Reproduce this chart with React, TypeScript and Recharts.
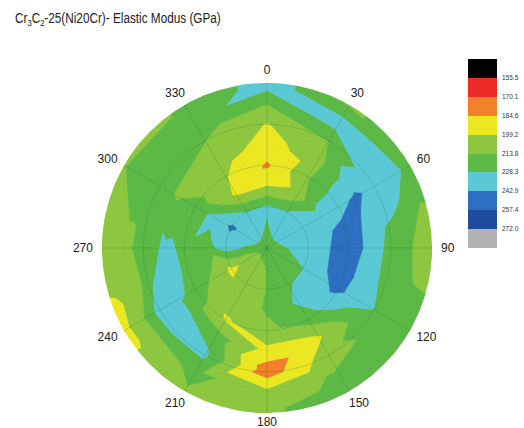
import React from 'react';
import {
  ScatterChart,
  Scatter,
  XAxis,
  YAxis,
  RadarChart,
  Radar,
  PolarGrid,
  PolarAngleAxis,
  PolarRadiusAxis,
} from 'recharts';

// measurement directions (deg, clockwise from top) and the values on each ring, inner to outer
const ANGLES = [0, 30, 60, 90, 120, 150, 180, 210, 240, 270, 300, 330];
const CENTER_VALUE = 221;
const RING_1 = [226, 234, 234, 228, 224, 224, 214, 208, 203, 226, 236, 234];
const RING_2 = [230, 229, 234, 236, 228, 226, 214, 206, 196, 234, 245, 228];
const RING_3 = [199, 204, 236, 242, 240, 231, 215, 207, 210, 222, 232, 197];
const RING_4 = [182.5, 212, 239, 252, 246, 220, 211, 197, 224, 226, 220, 200];
const RING_5 = [192, 208, 245, 238, 236, 197, 194, 222, 231, 231, 212, 207];
const RING_6 = [198, 214, 238, 223, 228, 207, 175, 231, 235, 218, 220, 214];
const RING_7 = [214, 236, 236, 214, 222, 216, 203, 218, 210, 210, 220, 222];
const RING_8 = [236, 212, 220, 206, 221, 220, 212, 212, 194, 207, 213, 214];

const LEVELS = [155.5, 170.1, 184.6, 199.2, 213.8, 228.3, 242.9, 257.4, 272.0];
const BAND_COLORS = [
  '#000000', '#ec2a26', '#f3812b', '#ebe722', '#8dc63f',
  '#5cb946', '#5bc8d6', '#2d6fc0', '#1f4c9f', '#b2b2b2',
];

const W = 524;
const H = 428;
const CX = 267;
const CY = 248;
const R = 165;

type P = { x: number; y: number; v: number };

const RINGS = [RING_1, RING_2, RING_3, RING_4, RING_5, RING_6, RING_7, RING_8];
const OUTER = RINGS.length;
// extra rim ring (outer values repeated) so the disk clip hides the chord gaps
const RADII = [...RINGS.map((_, k) => k + 1), OUTER * 1.1];

const sorted = RINGS.flat().sort((a, b) => a - b);
const MEDIAN = sorted[Math.floor(sorted.length / 2)];

const node = (k: number, i: number): P => {
  if (k < 0) return { x: 0, y: 0, v: CENTER_VALUE };
  const a = (ANGLES[i % 12] * Math.PI) / 180;
  const vals = RINGS[Math.min(k, OUTER - 1)];
  return { x: RADII[k] * Math.sin(a), y: RADII[k] * Math.cos(a), v: vals[i % 12] };
};

// split each cell along the diagonal that carries the stronger feature
const splitQuad = (a: P, b: P, c: P, d: P): P[][] =>
  Math.abs((a.v + c.v) / 2 - MEDIAN) >= Math.abs((b.v + d.v) / 2 - MEDIAN)
    ? [[a, b, c], [a, c, d]]
    : [[a, b, d], [b, c, d]];

const triangles: P[][] = [];
for (let i = 0; i < 12; i++) {
  triangles.push([node(-1, 0), node(0, i), node(0, i + 1)]);
  for (let k = 0; k < RADII.length - 1; k++) {
    triangles.push(...splitQuad(node(k, i), node(k, i + 1), node(k + 1, i + 1), node(k + 1, i)));
  }
}

// keep the part of a polygon above (or below) a level, linear along edges
const clip = (poly: P[], level: number, above: boolean) => {
  const out: P[] = [];
  const inside = (p: P) => (above ? p.v >= level : p.v < level);
  for (let i = 0; i < poly.length; i++) {
    const p = poly[i];
    const q = poly[(i + 1) % poly.length];
    if (inside(p)) out.push(p);
    if (inside(p) !== inside(q)) {
      const t = (level - p.v) / (q.v - p.v);
      out.push({ x: p.x + t * (q.x - p.x), y: p.y + t * (q.y - p.y), v: level });
    }
  }
  return out;
};

const bands = BAND_COLORS.map((color, b) => {
  const pieces: P[][] = [];
  triangles.forEach((tri) => {
    let poly = tri;
    if (b > 0) poly = clip(poly, LEVELS[b - 1], true);
    if (b < LEVELS.length && poly.length) poly = clip(poly, LEVELS[b], false);
    if (poly.length >= 3) pieces.push(poly);
  });
  return {
    color,
    counts: pieces.map((p) => p.length),
    data: pieces.flat().map((p) => ({ x: p.x, y: p.y })),
  };
}).filter((band) => band.data.length > 0);

const bandPath = (counts: number[], color: string) => (props: any) => {
  const pts = props.points || [];
  let d = '';
  let k = 0;
  counts.forEach((n) => {
    const seg = pts.slice(k, k + n);
    k += n;
    d += 'M' + seg.map((p: any) => `${p.x},${p.y}`).join('L') + 'Z';
  });
  return (
    <path d={d} fill={color} stroke={color} strokeWidth={0.7} strokeLinejoin="round" clipPath="url(#disk)" />
  );
};

// center and rim point, used to build the circular clip in pixel space
const DISK_REF = [{ x: 0, y: 0 }, { x: OUTER, y: 0 }];
const diskClip = (props: any) => {
  const [c, e] = props.points;
  return (
    <defs>
      <clipPath id="disk">
        <circle cx={c.x} cy={c.y} r={Math.abs(e.x - c.x)} />
      </clipPath>
    </defs>
  );
};

const noDot = () => <g />;

const angleData = ANGLES.map((a) => ({ angle: String(a), v: 0 }));

const AngleTick = (props: any) => {
  const { x, y, payload } = props;
  const dx = x - CX;
  const dy = y - CY;
  const len = Math.hypot(dx, dy) || 1;
  const ux = dx / len;
  const uy = dy / len;
  const label = String(payload.value);
  const w = label.length * 6.7;
  const tx = CX + ux * 174 + (ux * w) / 2;
  const ty = Math.min(CY + uy * 174 + uy * 4.5, 421.5);
  return (
    <text x={tx} y={ty} textAnchor="middle" dominantBaseline="central" fontSize={12} fill="#1a1a1a"
      fontFamily="'Liberation Sans', Arial, sans-serif">
      {label}
    </text>
  );
};

const ColorBar = () => {
  const top = 59;
  const step = 18.9;
  return (
    <div style={{ position: 'absolute', left: 0, top: 0 }}>
      {BAND_COLORS.map((c, i) => (
        <div key={c} style={{ position: 'absolute', left: 468, top: top + i * step, width: 29, height: step + 0.5, background: c }} />
      ))}
      {LEVELS.map((lv, i) => (
        <div key={lv} style={{
          position: 'absolute', left: 502, top: top + (i + 1) * step - 4, fontSize: 6.5, lineHeight: '8px',
          color: '#333', fontFamily: "'Liberation Sans', Arial, sans-serif",
        }}>
          {lv.toFixed(1)}
        </div>
      ))}
    </div>
  );
};

export default function App() {
  return (
    <div style={{ position: 'absolute', left: 0, top: 0, width: W, height: H, background: '#fff', overflow: 'hidden' }}>
      <div style={{
        position: 'absolute', left: 15, top: 11, fontSize: 14, lineHeight: '14px', color: '#222',
        fontFamily: "'Liberation Sans', Arial, sans-serif", transform: 'scaleX(0.84)', transformOrigin: 'left top',
        whiteSpace: 'nowrap',
      }}>
        Cr<sub style={{ fontSize: 9, verticalAlign: -3 }}>3</sub>C<sub style={{ fontSize: 9, verticalAlign: -3 }}>2</sub>-25(Ni20Cr)- Elastic Modus (GPa)
      </div>

      <div style={{ position: 'absolute', left: 0, top: 0 }}>
        <ScatterChart width={W} height={H} margin={{ top: CY - R, right: W - CX - R, bottom: H - CY - R, left: CX - R }}>
          <XAxis type="number" dataKey="x" domain={[-OUTER, OUTER]} allowDataOverflow hide />
          <YAxis type="number" dataKey="y" domain={[-OUTER, OUTER]} allowDataOverflow hide />
          <Scatter data={DISK_REF} line={diskClip} shape={noDot} isAnimationActive={false} />
          {bands.map((band) => (
            <Scatter
              key={band.color}
              data={band.data}
              line={bandPath(band.counts, band.color)}
              shape={noDot}
              isAnimationActive={false}
            />
          ))}
        </ScatterChart>
      </div>

      <div style={{ position: 'absolute', left: 0, top: 0, pointerEvents: 'none' }}>
        <RadarChart width={W} height={H} cx={CX} cy={CY} outerRadius={R} startAngle={90} endAngle={-270}
          data={angleData} margin={{ top: 0, right: 0, bottom: 0, left: 0 }}>
          <PolarGrid gridType="circle" polarRadius={[R / 4, R / 2, (3 * R) / 4]} stroke="#1e7a3c" strokeOpacity={0.3} strokeWidth={0.8} />
          <PolarAngleAxis dataKey="angle" tick={AngleTick} tickLine={false} axisLine={false} />
          <PolarRadiusAxis domain={[0, 4]} tick={false} axisLine={false} />
          <Radar dataKey="v" fill="none" stroke="none" isAnimationActive={false} />
        </RadarChart>
      </div>

      <ColorBar />
    </div>
  );
}
